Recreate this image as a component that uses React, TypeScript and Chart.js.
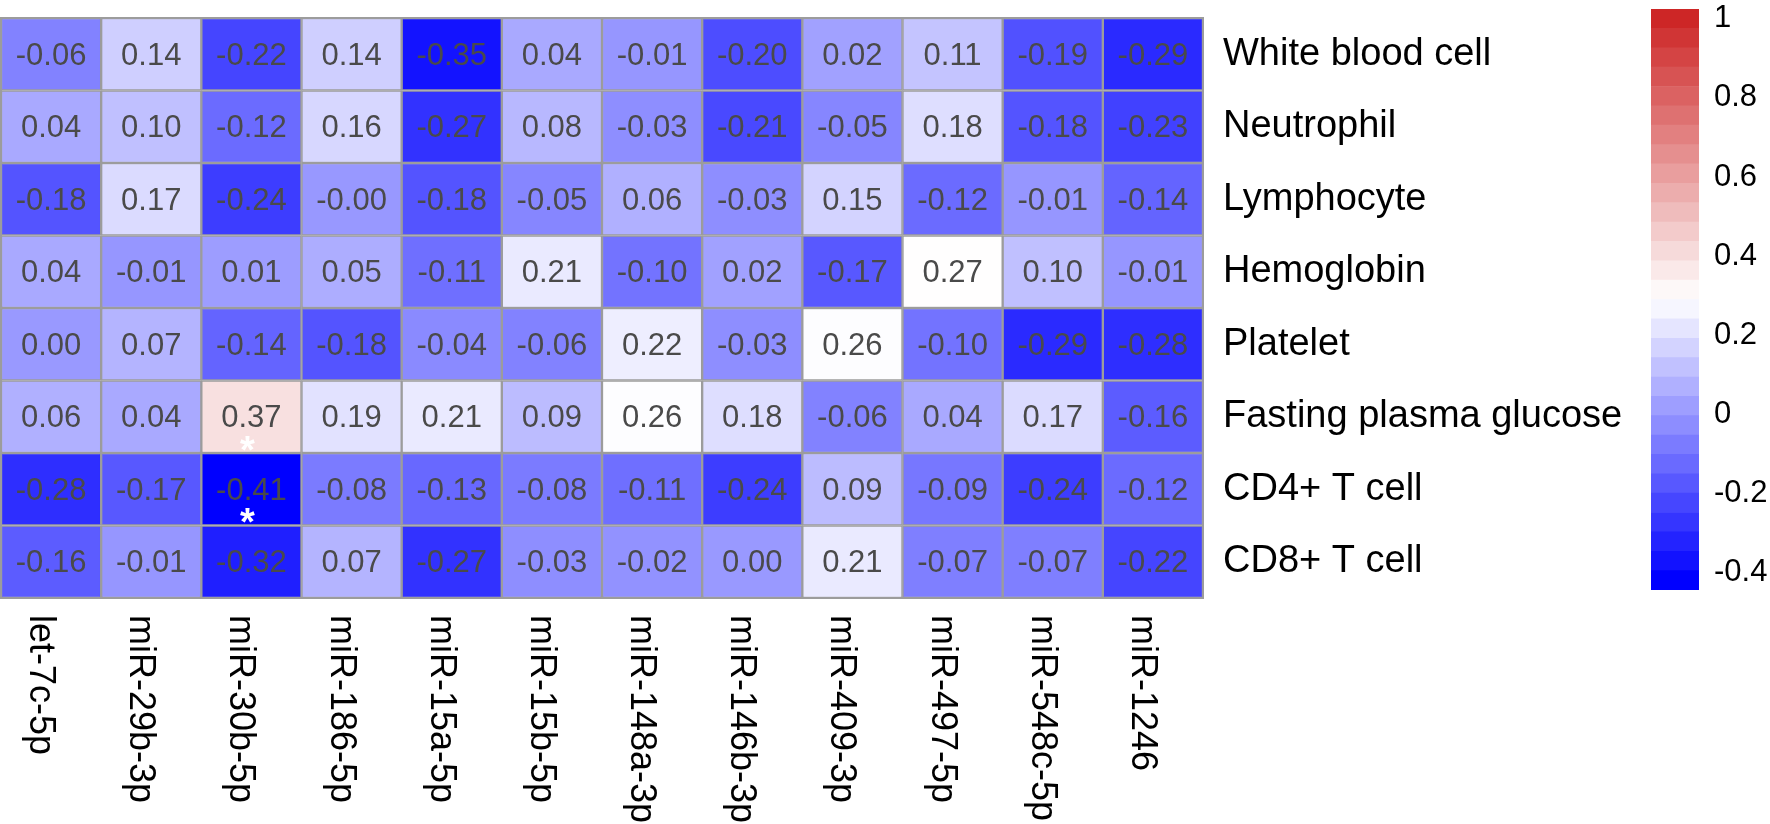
import React, { useEffect, useRef } from "react";
import { Chart, registerables } from "chart.js";

Chart.register(...registerables);

// ---------- data ----------
const columns = [
  "let-7c-5p", "miR-29b-3p", "miR-30b-5p", "miR-186-5p", "miR-15a-5p", "miR-15b-5p",
  "miR-148a-3p", "miR-146b-3p", "miR-409-3p", "miR-497-5p", "miR-548c-5p", "miR-1246",
];
const rows = [
  "White blood cell", "Neutrophil", "Lymphocyte", "Hemoglobin", "Platelet",
  "Fasting plasma glucose", "CD4+ T cell", "CD8+ T cell",
];
const whiteBloodCell = [-0.06, 0.14, -0.22, 0.14, -0.35, 0.04, -0.01, -0.20, 0.02, 0.11, -0.19, -0.29];
const neutrophil = [0.04, 0.10, -0.12, 0.16, -0.27, 0.08, -0.03, -0.21, -0.05, 0.18, -0.18, -0.23];
const lymphocyte = [-0.18, 0.17, -0.24, -0.004, -0.18, -0.05, 0.06, -0.03, 0.15, -0.12, -0.01, -0.14];
const hemoglobin = [0.04, -0.01, 0.01, 0.05, -0.11, 0.21, -0.10, 0.02, -0.17, 0.27, 0.10, -0.01];
const platelet = [0.00, 0.07, -0.14, -0.18, -0.04, -0.06, 0.22, -0.03, 0.26, -0.10, -0.29, -0.28];
const fastingGlucose = [0.06, 0.04, 0.37, 0.19, 0.21, 0.09, 0.26, 0.18, -0.06, 0.04, 0.17, -0.16];
const cd4 = [-0.28, -0.17, -0.41, -0.08, -0.13, -0.08, -0.11, -0.24, 0.09, -0.09, -0.24, -0.12];
const cd8 = [-0.16, -0.01, -0.32, 0.07, -0.27, -0.03, -0.02, 0.00, 0.21, -0.07, -0.07, -0.22];
const values = [whiteBloodCell, neutrophil, lymphocyte, hemoglobin, platelet, fastingGlucose, cd4, cd8];

// significant cells (row index, column index)
const sigRows = [5, 6];
const sigCols = [2, 2];

// colour legend
const legendTicks = [-0.4, -0.2, 0, 0.2, 0.4, 0.6, 0.8, 1];
const COLOR_MIN = -0.445;
const COLOR_MAX = 1.025;
const LEGEND_BANDS = 30;

// ---------- colour helpers ----------
const LOW = [0, 0, 255];
const MID = [255, 255, 255];
const HIGH = [205, 38, 38];

function mix(a: number[], b: number[], s: number): string {
  s = Math.max(0, Math.min(1, s));
  const c = a.map((v, i) => Math.round(v + (b[i] - v) * s));
  return `rgb(${c[0]},${c[1]},${c[2]})`;
}
function ramp(t: number): string {
  t = Math.max(0, Math.min(1, t));
  return t <= 0.5 ? mix(LOW, MID, t / 0.5) : mix(MID, HIGH, (t - 0.5) / 0.5);
}
// cell colours (blue below the white point, red above it)
const CELL_BLUE_AT = -0.40;
const CELL_WHITE_AT = 0.265;
function colorFor(v: number): string {
  if (v <= CELL_WHITE_AT) return mix(LOW, MID, (v - CELL_BLUE_AT) / (CELL_WHITE_AT - CELL_BLUE_AT));
  return mix(MID, HIGH, (v - CELL_WHITE_AT) / (1 - CELL_WHITE_AT));
}

const FONT = '"Liberation Sans", Arial, sans-serif';

// ---------- plugins ----------
const heatmapText = {
  id: "heatmapText",
  afterDatasetsDraw(chart: any) {
    const ctx = chart.ctx;
    const area = chart.chartArea;
    ctx.save();
    // outer frame
    ctx.strokeStyle = "#9c9c9c";
    ctx.lineWidth = 2;
    ctx.strokeRect(area.left, area.top, area.right - area.left, area.bottom - area.top);

    // cell values
    ctx.font = `31px ${FONT}`;
    ctx.textAlign = "center";
    ctx.textBaseline = "middle";
    ctx.fillStyle = "#4a4a4a";
    const centers: { x: number; y: number }[][] = [];
    chart.data.datasets.forEach((_ds: any, r: number) => {
      const meta = chart.getDatasetMeta(r);
      centers[r] = [];
      meta.data.forEach((el: any, c: number) => {
        const p = el.getProps(["x", "y", "base"], true);
        const cy = (p.y + p.base) / 2;
        centers[r][c] = { x: p.x, y: cy };
        ctx.fillText(values[r][c].toFixed(2), p.x, cy + 2);
      });
    });

    // significance stars
    ctx.fillStyle = "#ffffff";
    ctx.font = `bold 38px ${FONT}`;
    ctx.textBaseline = "alphabetic";
    sigRows.forEach((r, i) => {
      const c = sigCols[i];
      const pt = centers[r][c];
      ctx.fillText("*", pt.x - 4, pt.y + 46);
    });

    // column labels (rotated, reading downward)
    const xs = chart.scales.x;
    ctx.fillStyle = "#000000";
    ctx.font = `36px ${FONT}`;
    ctx.textAlign = "left";
    ctx.textBaseline = "alphabetic";
    columns.forEach((lab, i) => {
      const px = xs.getPixelForValue(i);
      ctx.save();
      ctx.translate(px - 21, area.bottom + 17);
      ctx.rotate(Math.PI / 2);
      ctx.fillText(lab, 0, 0);
      ctx.restore();
    });
    ctx.restore();
  },
};

export default function App() {
  const mainRef = useRef<HTMLCanvasElement | null>(null);
  const legendRef = useRef<HTMLCanvasElement | null>(null);

  useEffect(() => {
    const MAIN_W = 1640;
    const main = new Chart(mainRef.current as HTMLCanvasElement, {
      type: "bar",
      data: {
        labels: columns,
        datasets: values.map((rowVals, r) => ({
          label: rows[r],
          data: rowVals.map(() => [r, r + 1]) as any,
          backgroundColor: rowVals.map(colorFor),
          borderColor: "#9c9c9c",
          borderWidth: 1.5,
          borderSkipped: false,
          grouped: false,
          barPercentage: 1,
          categoryPercentage: 1,
        })),
      },
      options: {
        responsive: false,
        animation: false,
        events: [],
        layout: { padding: { left: 1, top: 18, right: 0, bottom: 226 } },
        plugins: { legend: { display: false }, tooltip: { enabled: false } },
        scales: {
          x: { type: "category", display: false, offset: true },
          y: {
            type: "linear",
            position: "right",
            min: 0,
            max: rows.length,
            reverse: true,
            grid: { display: false, drawTicks: false },
            border: { display: false },
            afterBuildTicks: (scale: any) => {
              scale.ticks = rows.map((_, i) => ({ value: i + 0.5 }));
            },
            afterFit: (scale: any) => {
              scale.width = MAIN_W - 1203;
              scale.paddingTop = 0;
              scale.paddingBottom = 0;
            },
            ticks: {
              autoSkip: false,
              padding: 20,
              color: "#000000",
              font: { family: FONT, size: 38 },
              callback: (v: any) => rows[Math.floor(Number(v))],
            },
          },
        },
      },
      plugins: [heatmapText],
    } as any);

    const step = (COLOR_MAX - COLOR_MIN) / LEGEND_BANDS;
    const bands = Array.from({ length: LEGEND_BANDS }, (_, i) => i);
    const LEG_LEFT = 11;
    const LEG_BAR_W = 48;
    const legend = new Chart(legendRef.current as HTMLCanvasElement, {
      type: "bar",
      data: {
        labels: [""],
        datasets: bands.map((i) => ({
          data: [[COLOR_MIN + i * step, COLOR_MIN + (i + 1) * step]] as any,
          backgroundColor: ramp(i / (LEGEND_BANDS - 1)),
          borderWidth: 0,
          grouped: false,
          barPercentage: 1,
          categoryPercentage: 1,
        })),
      },
      options: {
        responsive: false,
        animation: false,
        events: [],
        layout: { padding: { left: LEG_LEFT, top: 9, right: 0, bottom: 234 } },
        plugins: { legend: { display: false }, tooltip: { enabled: false } },
        scales: {
          x: { type: "category", display: false, offset: true },
          y: {
            type: "linear",
            position: "right",
            min: COLOR_MIN,
            max: COLOR_MAX,
            grid: { display: false, drawTicks: false },
            border: { display: false },
            afterBuildTicks: (scale: any) => {
              scale.ticks = legendTicks.map((v) => ({ value: v }));
            },
            afterFit: (scale: any) => {
              scale.width = 130 - LEG_LEFT - LEG_BAR_W;
              scale.paddingTop = 0;
              scale.paddingBottom = 0;
            },
            ticks: {
              autoSkip: false,
              padding: 15,
              color: "#000000",
              font: { family: FONT, size: 31 },
              callback: (v: any) => String(Math.round(Number(v) * 10) / 10),
            },
          },
        },
      },
    } as any);

    return () => {
      main.destroy();
      legend.destroy();
    };
  }, []);

  return (
    <div style={{ position: "absolute", left: 0, top: 0, width: 1770, height: 824, background: "#ffffff" }}>
      <canvas ref={mainRef} width={1640} height={824} style={{ position: "absolute", left: 0, top: 0 }} />
      <canvas ref={legendRef} width={130} height={824} style={{ position: "absolute", left: 1640, top: 0 }} />
    </div>
  );
}
